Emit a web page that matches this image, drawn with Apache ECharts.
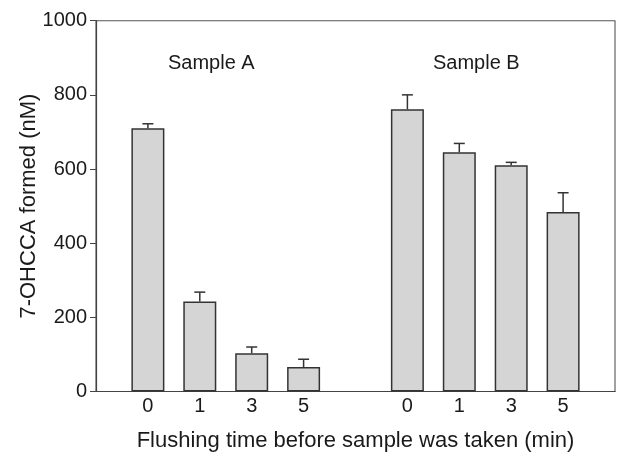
<!DOCTYPE html>
<html>
<head>
<meta charset="utf-8">
<script src="https://cdn.jsdelivr.net/npm/echarts@6/dist/echarts.min.js"></script>
<style>
html,body{margin:0;padding:0;background:#fff;}
#chart{width:620px;height:454px;}
</style>
</head>
<body>
<div id="chart"></div>
<script>
// Data
var timesA = ['0', '1', '3', '5'];
var valuesA = [710, 243, 103, 66];
var errA = [12, 25, 17, 21];
var timesB = ['0', '1', '3', '5'];
var valuesB = [761, 645, 610, 484];
var errB = [39, 24, 8, 52];
var yTicks = [0, 200, 400, 600, 800, 1000];
var groupLabels = ['Sample A', 'Sample B'];
var yTitle = '7-OHCCA formed (nM)';
var xTitle = 'Flushing time before sample was taken (min)';

// Build category axis with blank spacer slots
var categories = [''].concat(timesA, [''], timesB, ['']);
var barData = [null].concat(valuesA, [null], valuesB, [null]);
var errData = [null].concat(errA, [null], errB, [null]);
var errSeries = [];
for (var i = 0; i < categories.length; i++) {
  if (barData[i] != null) errSeries.push([i, barData[i], errData[i]]);
}

var FONT = 'Liberation Sans, Arial, Helvetica, sans-serif';
var ink = '#1a1a1a';
var chart = echarts.init(document.getElementById('chart'), null, {renderer: 'canvas'});
chart.setOption({
  animation: false,
  backgroundColor: '#fff',
  grid: {left: 96, right: 5, top: 20.7, bottom: 62.5, show: true, borderColor: '#555', borderWidth: 1.1,
         containLabel: false, outerBoundsMode: 'none'},
  xAxis: {
    type: 'category',
    data: categories,
    boundaryGap: false,
    axisLine: {lineStyle: {color: '#444', width: 1.2}},
    axisTick: {show: false},
    axisLabel: {color: ink, fontSize: 20, fontFamily: FONT, margin: 5, interval: 0},
    name: xTitle,
    nameLocation: 'middle',
    nameGap: 38,
    nameMoveOverlap: false,
    nameTextStyle: {color: ink, fontSize: 22, fontFamily: FONT}
  },
  yAxis: {
    type: 'value',
    min: yTicks[0],
    max: yTicks[yTicks.length - 1],
    interval: 200,
    splitLine: {show: false},
    axisLine: {show: true, lineStyle: {color: '#444', width: 1.2}},
    axisTick: {show: true, length: 6, lineStyle: {color: '#444'}},
    axisLabel: {color: ink, fontSize: 20, fontFamily: FONT, margin: 9, formatter: function (v) { return String(v); }},
    name: yTitle,
    nameLocation: 'middle',
    nameGap: 56,
    nameMoveOverlap: false,
    nameTextStyle: {color: ink, fontSize: 22, fontFamily: FONT}
  },
  graphic: [
    {type: 'text', left: 168, top: 53, style: {text: groupLabels[0], fill: ink, font: '20px ' + FONT}},
    {type: 'text', left: 433, top: 53, style: {text: groupLabels[1], fill: ink, font: '20px ' + FONT}}
  ],
  series: [
    {
      type: 'bar',
      data: barData,
      barWidth: 33,
      itemStyle: {color: '#d5d5d5', borderColor: '#333', borderWidth: 1.5},
      z: 2
    },
    {
      type: 'custom',
      data: errSeries,
      z: 3,
      renderItem: function (params, api) {
        var x = api.value(0), v = api.value(1), e = api.value(2);
        var p0 = api.coord([x, v]);
        var p1 = api.coord([x, v + e]);
        var hw = 5.5;
        var st = {stroke: '#333', lineWidth: 1.5};
        return {
          type: 'group',
          children: [
            {type: 'line', shape: {x1: p0[0], y1: p0[1], x2: p1[0], y2: p1[1]}, style: st},
            {type: 'line', shape: {x1: p1[0] - hw, y1: p1[1], x2: p1[0] + hw, y2: p1[1]}, style: st}
          ]
        };
      }
    }
  ]
});
</script>
</body>
</html>
